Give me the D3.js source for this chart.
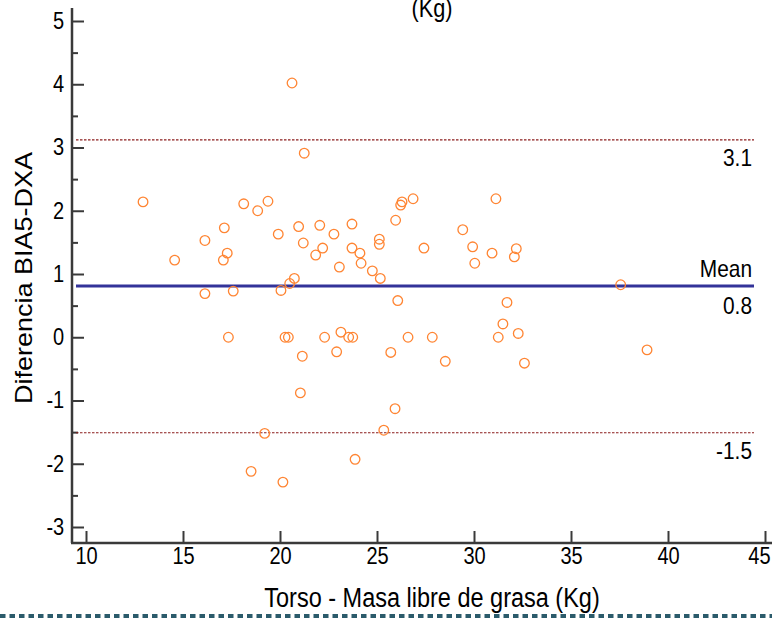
<!DOCTYPE html>
<html>
<head>
<meta charset="utf-8">
<script src="https://cdn.jsdelivr.net/npm/d3@7"></script>
<style>
  body { margin: 0; background: #fff; }
  text { font-family: "Liberation Sans", Arial, sans-serif; fill: #000; }
</style>
</head>
<body>
<div id="graph"></div>
<script>
// Bland-Altman data
// torso fat free mass (Kg) and difference BIA5 - DXA
var masa = [12.94, 14.57, 16.13, 16.13, 17.08, 17.28, 17.13, 17.34, 17.59, 18.13,
    18.85, 19.38, 19.21, 18.51, 19.91, 20.05, 20.15, 20.26, 20.43, 20.50,
    20.74, 20.62, 20.96, 21.20, 21.25, 21.15, 21.05, 22.05, 22.20, 21.84,
    22.30, 22.78, 23.06, 23.14, 22.92, 23.54, 23.75, 23.71, 23.71, 24.12,
    24.18, 24.76, 25.12, 25.12, 25.17, 25.35, 25.71, 25.93, 25.96, 26.07,
    26.22, 26.29, 26.60, 26.86, 27.42, 27.85, 28.52, 29.42, 29.93, 30.04,
    30.93, 31.13, 31.25, 31.49, 31.70, 32.08, 32.18, 32.28, 32.60, 37.56,
    38.92, 23.87];
var diferencia = [2.14, 1.22, 1.53, 0.69, 1.22, 1.33, 1.73, 0.00, 0.73, 2.11,
    2.00, 2.15, -1.52, -2.12, 1.63, 0.74, -2.29, 0.00, 0.00, 0.85,
    0.93, 4.02, 1.75, 1.49, 2.91, -0.30, -0.88, 1.77, 1.41, 1.30,
    0.00, 1.63, 1.11, 0.08, -0.23, 0.00, 0.00, 1.79, 1.41, 1.33,
    1.17, 1.05, 1.55, 1.47, 0.93, -1.47, -0.24, -1.13, 1.85, 0.58,
    2.09, 2.14, 0.00, 2.19, 1.41, 0.00, -0.38, 1.70, 1.43, 1.17,
    1.33, 2.19, 0.00, 0.21, 0.55, 1.27, 1.40, 0.06, -0.41, 0.83,
    -0.20, -1.93];

// mean and limits of agreement
var media = 0.81;
var limiteSup = 3.12;
var limiteInf = -1.51;

var xTicks = [10, 15, 20, 25, 30, 35, 40, 45];
var yTicks = [-3, -2, -1, 0, 1, 2, 3, 4, 5];
var yMinor = [-2.5, -1.5, -0.5, 0.5, 1.5, 2.5, 3.5, 4.5];

var width = 772;
var height = 619;
var axisX = 72;      // where the y axis line sits
var axisY = 543;     // where the x axis line sits
var squeeze = 0.87;  // the original text looks a bit narrow

var svg = d3.select('#graph')
    .append('svg')
    .attr('width', width)
    .attr('height', height);

var x = d3.scaleLinear().domain([10, 45]).range([86, 765]);
var y = d3.scaleLinear().domain([-3, 5]).range([527, 21]);

var axisColor = '#3a3a3a';

// axis lines
svg.append('line')
    .attr('x1', axisX).attr('x2', axisX)
    .attr('y1', 8).attr('y2', axisY)
    .attr('stroke', axisColor).attr('stroke-width', 2.5);
svg.append('line')
    .attr('x1', axisX - 1).attr('x2', width)
    .attr('y1', axisY).attr('y2', axisY)
    .attr('stroke', axisColor).attr('stroke-width', 2.5);

// plain hyphen for negatives, like the original
var fmt = function(d) { return String(d); };

// y axis, ticks pointing inside
var yAxis = svg.append('g')
    .attr('transform', 'translate(' + axisX + ',0)')
    .call(d3.axisLeft(y).tickValues(yTicks).tickSizeInner(-12).tickSizeOuter(0).tickPadding(9).tickFormat(fmt));
var yAxisMinor = svg.append('g')
    .attr('transform', 'translate(' + axisX + ',0)')
    .call(d3.axisLeft(y).tickValues(yMinor).tickSizeInner(-6).tickSizeOuter(0).tickFormat(''));

// x axis, ticks pointing up
var xAxis = svg.append('g')
    .attr('transform', 'translate(0,' + axisY + ')')
    .call(d3.axisBottom(x).tickValues(xTicks).tickSizeInner(-12).tickSizeOuter(0).tickPadding(5).tickFormat(fmt));

[yAxis, yAxisMinor, xAxis].forEach(function(g) {
    g.select('.domain').remove();
    g.selectAll('.tick line').attr('stroke', axisColor).attr('stroke-width', 2);
    g.selectAll('.tick text')
        .attr('font-size', 23)
        .attr('font-family', '"Liberation Sans", Arial, sans-serif')
        .attr('fill', '#000')
        .attr('transform', 'scale(' + squeeze + ',1)');
});

// last x label sits right at the edge, nudge it in so it is not cut
xAxis.selectAll('.tick text')
    .filter(function(d) { return d === 45; })
    .attr('dx', -7);

// limits of agreement (dashed) and the mean
var lineas = [
    { v: limiteSup, color: '#8b1c1c', w: 1.2, dash: '2.5,1.5' },
    { v: limiteInf, color: '#8b1c1c', w: 1.2, dash: '2.5,1.5' },
    { v: media, color: '#333399', w: 3.2, dash: null }
];
svg.selectAll('.ref')
    .data(lineas)
    .enter()
    .append('line')
    .attr('class', 'ref')
    .attr('x1', 76).attr('x2', 754)
    .attr('y1', function(d) { return y(d.v); })
    .attr('y2', function(d) { return y(d.v); })
    .attr('stroke', function(d) { return d.color; })
    .attr('stroke-width', function(d) { return d.w; })
    .attr('stroke-dasharray', function(d) { return d.dash; });

// labels at the right end of the lines
var etiquetas = [
    { t: limiteSup.toFixed(1), v: limiteSup, dy: 26 },
    { t: 'Mean', v: media, dy: -9 },
    { t: media.toFixed(1), v: media, dy: 28 },
    { t: limiteInf.toFixed(1), v: limiteInf, dy: 26 }
];
svg.selectAll('.etq')
    .data(etiquetas)
    .enter()
    .append('text')
    .attr('class', 'etq')
    .attr('transform', function(d) {
        return 'translate(752,' + (y(d.v) + d.dy) + ') scale(' + squeeze + ',1)';
    })
    .attr('text-anchor', 'end')
    .attr('font-size', 24)
    .text(function(d) { return d.t; });

// points
svg.append('g')
    .selectAll('circle')
    .data(masa)
    .enter()
    .append('circle')
    .attr('cx', function(d) { return x(d); })
    .attr('cy', function(d, i) { return y(diferencia[i]); })
    .attr('r', 4.8)
    .attr('fill', 'none')
    .attr('stroke', '#ff8533')
    .attr('stroke-width', 1.3);

// titles (the top one is cut by the frame in the original too)
svg.append('text')
    .attr('transform', 'translate(432,17) scale(' + squeeze + ',1)')
    .attr('text-anchor', 'middle')
    .attr('font-size', 25)
    .text('(Kg)');

svg.append('text')
    .attr('transform', 'translate(432,607) scale(' + squeeze + ',1)')
    .attr('text-anchor', 'middle')
    .attr('font-size', 27)
    .text('Torso - Masa libre de grasa (Kg)');

svg.append('text')
    .attr('transform', 'translate(32,278) rotate(-90) scale(1,' + squeeze + ')')
    .attr('text-anchor', 'middle')
    .attr('font-size', 27)
    .text('Diferencia BIA5-DXA');

// dotted frame line at the bottom
svg.append('line')
    .attr('x1', 0).attr('x2', width)
    .attr('y1', 616).attr('y2', 616)
    .attr('stroke', '#2b5b6b')
    .attr('stroke-width', 4)
    .attr('stroke-dasharray', '5.5,4');
</script>
</body>
</html>
